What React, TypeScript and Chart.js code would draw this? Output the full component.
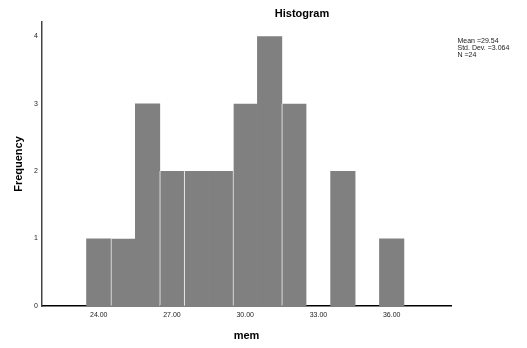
import React, { useEffect, useRef } from "react";
import { Chart, registerables } from "chart.js";

Chart.register(...registerables);

// Histogram bins (bin centres, width 1) and their frequencies
const binCenters = [24, 25, 26, 27, 28, 29, 30, 31, 32, 33, 34, 35, 36];
const frequencies = [1, 1, 3, 2, 2, 2, 3, 4, 3, 0, 2, 0, 1];
const xTickValues = [24, 27, 30, 33, 36];
const yTickValues = [0, 1, 2, 3, 4];
const statsLines = ["Mean =29.54", "Std. Dev. =3.064", "N =24"];
const chartTitle = "Histogram";
const xTitle = "mem";
const yTitle = "Frequency";

// white separator visible on the left edge of these bins (style only)
const separatorBins = [25, 27, 28, 30, 32];

const FONT = "'Liberation Sans', Arial, sans-serif";

export default function App() {
  const ref = useRef<HTMLCanvasElement | null>(null);

  useEffect(() => {
    document.body.style.margin = "0";
    const canvas = ref.current;
    if (!canvas) return;

    const textPlugin = {
      id: "textPlugin",
      afterDraw(chart: any) {
        const ctx = chart.ctx;
        ctx.save();
        ctx.fillStyle = "#000";
        ctx.font = `bold 11px ${FONT}`;
        ctx.textAlign = "center";
        ctx.textBaseline = "alphabetic";
        ctx.fillText(chartTitle, 302, 17);
        ctx.font = `7px ${FONT}`;
        ctx.textAlign = "left";
        ctx.fillStyle = "#222";
        statsLines.forEach((s, i) => ctx.fillText(s, 457.5, 43 + i * 7));
        ctx.restore();
      },
    };

    const chart = new Chart(canvas, {
      type: "bar",
      data: {
        datasets: [
          {
            data: binCenters.map((x, i) => ({ x, y: frequencies[i] })),
            backgroundColor: "#808080",
            borderColor: "#ffffff",
            borderWidth: (ctx: any) => {
              const x = binCenters[ctx.dataIndex];
              return { left: separatorBins.includes(x) ? 1 : 0, top: 0, right: 0, bottom: 0 };
            },
            borderSkipped: false,
            categoryPercentage: 1,
            barPercentage: 1.03,
          } as any,
        ],
      },
      plugins: [textPlugin],
      options: {
        animation: false,
        responsive: false,
        maintainAspectRatio: false,
        layout: { padding: { left: 0, right: 76, top: 22, bottom: 0 } },
        plugins: {
          legend: { display: false },
          title: { display: false },
          tooltip: { enabled: false },
        },
        scales: {
          x: {
            type: "linear",
            offset: false,
            min: 21.675,
            max: 38.43,
            grid: { display: false, drawTicks: false },
            border: { display: true, color: "#000", width: 1.5 },
            afterBuildTicks: (scale: any) => {
              scale.ticks = xTickValues.map((v) => ({ value: v }));
            },
            afterFit: (scale: any) => {
              scale.height = 42;
            },
            ticks: {
              autoSkip: false,
              maxRotation: 0,
              padding: 5,
              color: "#222",
              font: { size: 7, family: FONT },
              callback: (v: any) => Number(v).toFixed(2),
            },
            title: {
              display: true,
              text: xTitle,
              color: "#000",
              font: { size: 11, weight: "bold", family: FONT },
              padding: { top: 0, bottom: 5.5 },
            },
          },
          y: {
            type: "linear",
            min: 0,
            max: 4.21,
            grid: { display: false, drawTicks: false },
            border: { display: true, color: "#444", width: 1.5 },
            afterBuildTicks: (scale: any) => {
              scale.ticks = yTickValues.map((v) => ({ value: v }));
            },
            afterFit: (scale: any) => {
              scale.width = 42;
            },
            ticks: {
              padding: 4,
              color: "#222",
              font: { size: 7, family: FONT },
              callback: (v: any) => String(v),
            },
            title: {
              display: true,
              text: yTitle,
              color: "#000",
              font: { size: 11, weight: "bold", family: FONT },
              padding: { top: 12.7, bottom: 0 },
            },
          },
        },
      } as any,
    });
    return () => chart.destroy();
  }, []);

  return (
    <div style={{ position: "absolute", left: 0, top: 0, width: 527, height: 348, background: "#fff" }}>
      <canvas ref={ref} width={527} height={348} style={{ width: 527, height: 348 }} />
    </div>
  );
}
